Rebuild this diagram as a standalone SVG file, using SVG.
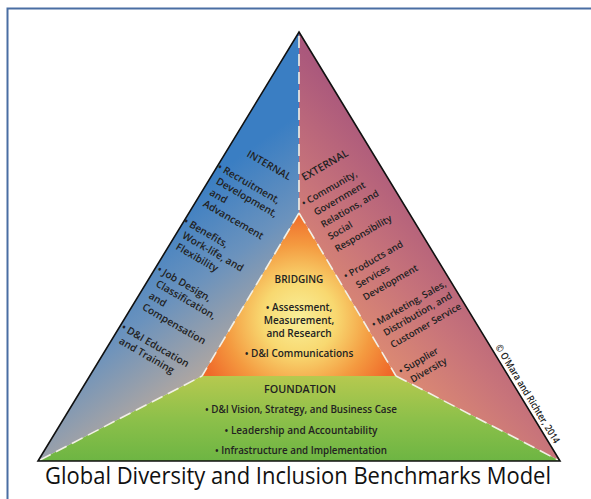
<svg xmlns="http://www.w3.org/2000/svg" width="591" height="499" viewBox="0 0 591 499">
<defs>
<linearGradient id="gInt" gradientUnits="userSpaceOnUse" x1="150" y1="220" x2="250" y2="360">
<stop offset="0" stop-color="#3a7ec3"/>
<stop offset="0.45" stop-color="#6a92bd"/>
<stop offset="1" stop-color="#bcaa9c"/>
</linearGradient>
<linearGradient id="gExt" gradientUnits="userSpaceOnUse" x1="470" y1="230" x2="340" y2="350">
<stop offset="0" stop-color="#aa587c"/>
<stop offset="0.5" stop-color="#c8747a"/>
<stop offset="1" stop-color="#e39270"/>
</linearGradient>
<radialGradient id="gBr" gradientUnits="userSpaceOnUse" cx="299" cy="318" r="105">
<stop offset="0" stop-color="#f9f09a"/>
<stop offset="0.35" stop-color="#f8d870"/>
<stop offset="0.7" stop-color="#f49a40"/>
<stop offset="1" stop-color="#ef6a2a"/>
</radialGradient>
<linearGradient id="gFo" gradientUnits="userSpaceOnUse" x1="0" y1="376" x2="0" y2="461">
<stop offset="0" stop-color="#b6c94f"/>
<stop offset="0.5" stop-color="#8dc04a"/>
<stop offset="1" stop-color="#6db543"/>
</linearGradient>
</defs>
<style>
.t{font-family:"Open Sans","Liberation Sans",sans-serif;font-weight:600;fill:#222;font-size:10px}
.side{font-size:10.2px}
.rs{font-size:9.5px}
.hd{font-size:10.5px}
.c{text-anchor:middle}
.dash{stroke:#f2f0e6;stroke-width:1.6;stroke-dasharray:12 6;fill:none}
</style>
<rect x="7.5" y="8.5" width="620" height="620" fill="#fff" stroke="#4a6ea3" stroke-width="2"/>

<g id="internal">
<polygon points="299,32 299,213 202,376 38,461" fill="url(#gInt)"/>
</g>
<g id="external">
<polygon points="299,32 560,461 396,376 299,213" fill="url(#gExt)"/>
</g>
<g id="bridging">
<polygon points="299,213 396,376 202,376" fill="url(#gBr)"/>
</g>
<g id="foundation">
<polygon points="38,461 202,376 396,376 560,461" fill="url(#gFo)"/>
</g>

<g id="connectors">
<line class="dash" x1="299" y1="36" x2="299" y2="213"/>
<line class="dash" x1="299" y1="213" x2="202" y2="376"/>
<line class="dash" x1="299" y1="213" x2="396" y2="376"/>
<line class="dash" x1="40" y1="460" x2="202" y2="376"/>
<line class="dash" x1="396" y1="376" x2="558" y2="460"/>
<polygon points="299,32 560,461 38,461" fill="none" stroke="#111" stroke-width="1.6" stroke-linejoin="miter"/>
</g>

<g id="internal-text" class="t side" transform="rotate(30)">
<text x="291" y="12">INTERNAL</text>
<text x="272" y="38">• Recruitment,</text>
<text x="278" y="51">Development,</text>
<text x="278" y="64">and</text>
<text x="278" y="77">Advancement</text>
<text x="270" y="102">• Benefits,</text>
<text x="276" y="115">Work-life, and</text>
<text x="276" y="128">Flexibility</text>
<text x="271" y="157">• Job Design,</text>
<text x="277" y="170">Classification,</text>
<text x="277" y="184">and</text>
<text x="277" y="197">Compensation</text>
<text x="269" y="225">• D&amp;I Education</text>
<text x="274" y="238">and Training</text>
</g>

<g id="external-text" class="t rs" transform="rotate(-30)">
<text class="hd" x="173" y="309">EXTERNAL</text>
<text x="160" y="331">• Community,</text>
<text x="166" y="345">Government</text>
<text x="166" y="359">Relations, and</text>
<text x="166" y="373">Social</text>
<text x="166" y="387">Responsibility</text>
<text x="160" y="415">• Products and</text>
<text x="166" y="429">Services</text>
<text x="166" y="443">Development</text>
<text x="160" y="471">• Marketing, Sales,</text>
<text x="166" y="484">Distribution, and</text>
<text x="166" y="498">Customer Service</text>
<text x="160" y="525">• Supplier</text>
<text x="166" y="538">Diversity</text>
</g>

<g id="bridging-text" class="t c">
<text x="299" y="283">BRIDGING</text>
<text x="299" y="311">• Assessment,</text>
<text x="299" y="324">Measurement,</text>
<text x="299" y="337">and Research</text>
<text x="299" y="357">• D&amp;I Communications</text>
</g>

<g id="foundation-text" class="t c">
<text x="300" y="393" textLength="72" lengthAdjust="spacingAndGlyphs">FOUNDATION</text>
<text x="301" y="413" textLength="192" lengthAdjust="spacingAndGlyphs">• D&amp;I Vision, Strategy, and Business Case</text>
<text x="301" y="434" textLength="153" lengthAdjust="spacingAndGlyphs">• Leadership and Accountability</text>
<text x="301" y="454" textLength="172" lengthAdjust="spacingAndGlyphs">• Infrastructure and Implementation</text>
</g>

<g id="copyright">
<text class="t" font-size="8.6" textLength="114" lengthAdjust="spacingAndGlyphs" transform="translate(495,347) rotate(58.6)">© O'Mara and Richter, 2014</text>
</g>

<g id="title">
<text x="298" y="484" text-anchor="middle" font-family="'Open Sans','Liberation Sans',sans-serif" font-size="23.5" font-weight="500" fill="#111" textLength="506" lengthAdjust="spacingAndGlyphs">Global Diversity and Inclusion Benchmarks Model</text>
</g>
</svg>
